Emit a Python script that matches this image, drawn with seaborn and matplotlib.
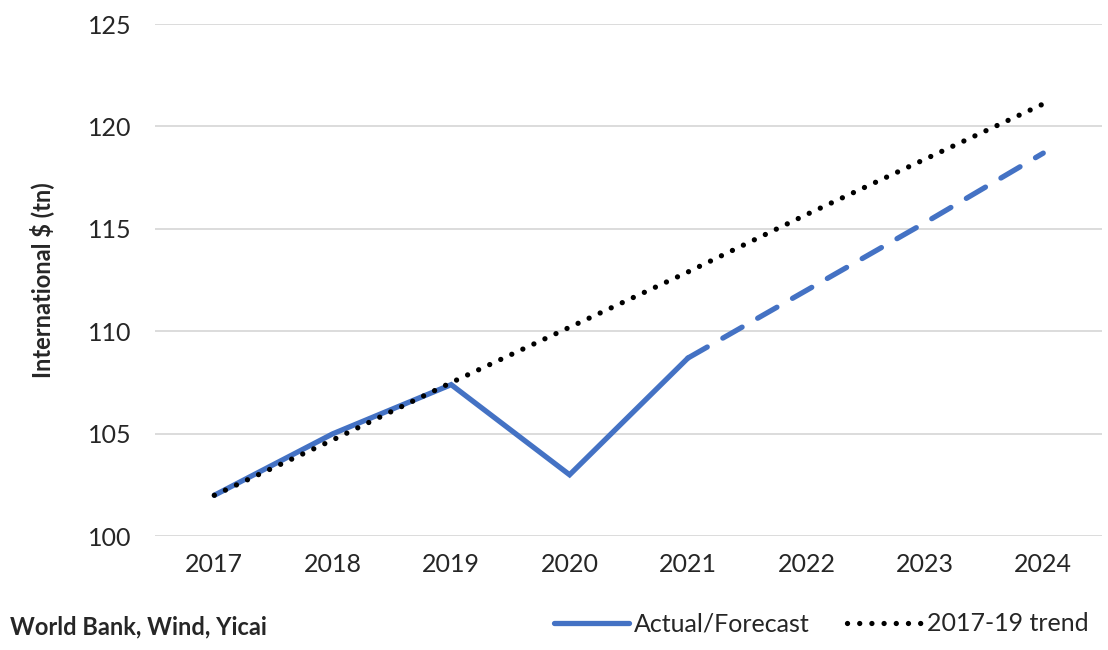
import numpy as np
import pandas as pd
import matplotlib
matplotlib.use("Agg")
import matplotlib.pyplot as plt
import seaborn as sns
from matplotlib.lines import Line2D

years = ["2017", "2018", "2019", "2020", "2021", "2022", "2023", "2024"]
actual = [102.0, 105.0, 107.4, 103.0, 108.7]
forecast = [108.7, 112.0, 115.3, 118.7]
trend = [102.0, 104.7, 107.5, 110.2, 112.9, 115.7, 118.4, 121.1]

blue = "#4472C4"

sns.set_theme(style="white")
plt.rcParams['font.family'] = ['Lato', 'DejaVu Sans']

fig = plt.figure(figsize=(11.08, 6.5), dpi=100)
ax = fig.add_axes([0.14, 0.175, 0.855, 0.788])

x_all = np.arange(len(years))
df_act = pd.DataFrame({"x": x_all[:5], "y": actual})
df_fc = pd.DataFrame({"x": x_all[4:], "y": forecast})
df_tr = pd.DataFrame({"x": x_all, "y": trend})

sns.lineplot(data=df_act, x="x", y="y", ax=ax, color=blue, linewidth=3.8,
             solid_capstyle="round", solid_joinstyle="miter", zorder=2)
sns.lineplot(data=df_fc, x="x", y="y", ax=ax, color=blue, linewidth=3.8,
             zorder=2)
ax.lines[-1].set_dashes([4.2, 3.4])
ax.lines[-1].set_dash_capstyle("round")
sns.lineplot(data=df_tr, x="x", y="y", ax=ax, color="black", linewidth=3.8,
             zorder=3)
ax.lines[-1].set_dashes([0.01, 2.3])
ax.lines[-1].set_dash_capstyle("round")

ax.set_xlim(-0.5, 7.5)
ax.set_ylim(100, 125)
ax.set_yticks([100, 105, 110, 115, 120, 125])
ax.set_xticks(x_all)
ax.set_xticklabels(years)
ax.yaxis.grid(True, color="#d9d9d9", linewidth=1.3)
ax.set_axisbelow(True)
for s in ax.spines.values():
    s.set_visible(False)
ax.tick_params(axis="both", length=0, labelsize=18, colors="#262626")
ax.tick_params(axis="x", pad=12)
ax.tick_params(axis="y", pad=17)
ax.set_xlabel("")
ax.set_ylabel("International $ (tn)", fontsize=17, fontweight="bold",
              color="#262626", labelpad=24)

fig.text(0.009, 0.018, "World Bank, Wind, Yicai", fontsize=17,
         fontweight="bold", color="#262626", ha="left", va="bottom")

handles = [Line2D([], [], color=blue, linewidth=3.8),
           Line2D([], [], color="black", linewidth=3.8, dashes=[0.01, 2.3],
                  dash_capstyle="round")]
fig.legend(handles, ["Actual/Forecast", "2017-19 trend"], loc="lower right",
           bbox_to_anchor=(1.003, -0.012), ncol=2, frameon=False, fontsize=18,
           handlelength=3.0, handletextpad=0.2, columnspacing=1.5,
           labelcolor="#262626")

fig.savefig("out.png", dpi=100)
